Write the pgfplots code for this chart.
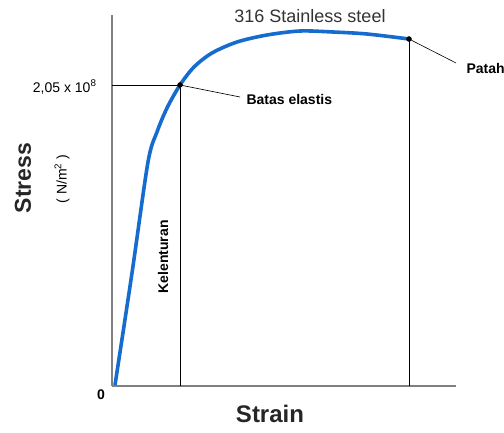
\documentclass[border=0pt]{standalone}
\usepackage{pgfplots}
\pgfplotsset{compat=1.18}
\usepackage{fontspec}
\setmainfont{Liberation Sans}
\definecolor{curveblue}{RGB}{22,108,206}
\definecolor{axgray}{RGB}{128,128,128}
\begin{document}
\begin{tikzpicture}[x=1pt,y=1pt]
\begin{axis}[
  at={(112pt,46pt)}, anchor=south west,
  scale only axis, width=344pt, height=371pt,
  xmin=0, xmax=344, ymin=0, ymax=371,
  axis x line=bottom, axis y line=left,
  axis line style={-, axgray, line width=1.4pt},
  ticks=none,
  clip=false,
]
% reference lines
\addplot[black, line width=0.8pt] coordinates {(0,301) (68,301)};
\addplot[black, line width=0.8pt] coordinates {(68,0) (68,301)};
\addplot[black, line width=0.8pt] coordinates {(297,0) (297,347)};
\addplot[black, line width=0.6pt] coordinates {(68,301) (128,289)};
\addplot[black, line width=0.6pt] coordinates {(297,347) (344,323)};
% stress-strain curve
\addplot[curveblue, line width=3.6pt, smooth, tension=0.5] coordinates {
(3,1) (20,113) (36,224) (45,254) (55,278) (68,301) (82,319)
(100,333) (125,344) (155,351) (188,355) (221,354) (255,352) (297,347)};
% points
\addplot[only marks, mark=*, mark size=2.5pt, black] coordinates {(68,301) (297,347)};
% texts
\node[font=\fontsize{18}{20}\selectfont, text=black!80] at (axis cs:198,370) {316 Stainless steel};
\node[anchor=west, font=\bfseries\fontsize{14}{16}\selectfont] at (axis cs:131,287) {Batas elastis};
\node[anchor=west, font=\bfseries\fontsize{14}{16}\selectfont] at (axis cs:351,318) {Patah};
\node[rotate=90, font=\bfseries\fontsize{14}{16}\selectfont] at (axis cs:51,129) {Kelenturan};
\node[anchor=east, font=\fontsize{14}{16}\selectfont] at (axis cs:-12,299) {2,05 x 10\textsuperscript{8}};
\node[font=\bfseries\fontsize{14}{16}\selectfont] at (axis cs:-11,-9) {0};
\node[rotate=90, font=\bfseries\fontsize{23}{26}\selectfont, text=black!85] at (axis cs:-89,208) {Stress};
\node[rotate=90, font=\fontsize{14}{16}\selectfont] at (axis cs:-50,207) {( N/m\textsuperscript{2} )};
\node[font=\bfseries\fontsize{24}{26}\selectfont, text=black!85] at (axis cs:158,-28) {Strain};
\end{axis}
\pgfresetboundingbox
\path (0,0) rectangle (504,432);
\end{tikzpicture}
\end{document}
